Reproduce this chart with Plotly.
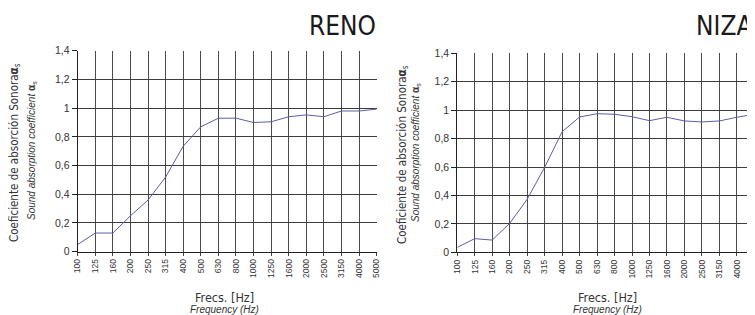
import plotly.graph_objects as go

freqs = ["100", "125", "160", "200", "250", "315", "400", "500", "630", "800",
         "1000", "1250", "1600", "2000", "2500", "3150", "4000", "5000"]
reno = [0.05, 0.13, 0.13, 0.25, 0.36, 0.52, 0.735, 0.87, 0.93, 0.93,
        0.90, 0.905, 0.94, 0.953, 0.94, 0.98, 0.98, 0.993]
niza = [0.035, 0.096, 0.086, 0.204, 0.373, 0.598, 0.848, 0.952, 0.975, 0.971,
        0.954, 0.926, 0.95, 0.924, 0.917, 0.924, 0.95, 0.971]
y_ticks = [0, 0.2, 0.4, 0.6, 0.8, 1.0, 1.2, 1.4]
titles = ["RENO", "NIZA"]

OFF = 8  # page body margin
W, H = 755 - OFF, 315 - OFF
LINE = "#5a5ea8"
GRID = "#3c3c3c"
VGRID = "#4a4a4a"

fig = go.Figure()
fig.add_trace(go.Scatter(x=freqs, y=reno, mode="lines", line=dict(color=LINE, width=1),
                         xaxis="x", yaxis="y", showlegend=False, hoverinfo="skip"))
fig.add_trace(go.Scatter(x=freqs, y=niza, mode="lines", line=dict(color=LINE, width=1),
                         xaxis="x2", yaxis="y2", showlegend=False, hoverinfo="skip"))

def px_x(v):
    return (v - OFF) / W

def px_y(v):
    return (H - (v - OFF)) / H

def xaxis(dom, anchor):
    return dict(domain=dom, anchor=anchor, type="category", range=[0, 17],
                categoryorder="array", categoryarray=freqs, automargin=False,
                showgrid=True, gridcolor=VGRID, gridwidth=1,
                showline=True, linecolor="#222", linewidth=1,
                ticks="outside", ticklen=3, tickcolor="#444",
                tickangle=-90, tickfont=dict(family="Liberation Sans", size=8.5, color="#333"),
                zeroline=False, fixedrange=True)

def yaxis(dom, anchor):
    return dict(domain=dom, anchor=anchor, range=[0, 1.4], tickvals=y_ticks, automargin=False,
                showgrid=True, gridcolor=GRID, gridwidth=1,
                showline=True, linecolor="#222", linewidth=1,
                ticks="outside", ticklen=5, tickcolor="#222",
                tickfont=dict(family="Liberation Sans", size=10.5, color="#333"),
                zeroline=False, fixedrange=True)

fig.update_layout(
    width=W, height=H, margin=dict(l=0, r=0, t=0, b=0, pad=0, autoexpand=False),
    paper_bgcolor="white", plot_bgcolor="white",
    separators=",.",
    xaxis=xaxis([px_x(77.7), px_x(376.7)], "y"),
    yaxis=yaxis([px_y(251.7), px_y(50.7)], "x"),
    xaxis2=xaxis([px_x(457.3), min(1.0, px_x(754.3))], "y2"),
    yaxis2=yaxis([px_y(252.3), px_y(53.3)], "x2"),
)

annots = []
for tx, xr, lx1, lx2, ly, xc in [
        (titles[0], 378, 14, 32, 153, 224),
        (titles[1], 754, 402, 416, 155, 607)]:
    annots.append(dict(text=tx, xref="paper", yref="paper", x=px_x(xr), y=px_y(26),
                       xanchor="right", yanchor="middle", showarrow=False,
                       font=dict(family="DejaVu Sans Condensed", size=26, color="#1a1a1a")))
    annots.append(dict(text="Coeficiente de absorción Sonora<b>α</b><sub>s</sub>",
                       xref="paper", yref="paper", x=px_x(lx1), y=px_y(ly),
                       xanchor="center", yanchor="middle", textangle=-90, showarrow=False,
                       font=dict(family="DejaVu Sans Condensed", size=11.5, color="#333")))
    annots.append(dict(text="<i>Sound absorption coefficient</i> <b>α</b><sub>s</sub>",
                       xref="paper", yref="paper", x=px_x(lx2), y=px_y(ly - 2),
                       xanchor="center", yanchor="middle", textangle=-90, showarrow=False,
                       font=dict(family="Liberation Sans", size=10, color="#333")))
    annots.append(dict(text="Frecs. [Hz]", xref="paper", yref="paper", x=px_x(xc), y=px_y(297),
                       xanchor="center", yanchor="middle", showarrow=False,
                       font=dict(family="DejaVu Sans Condensed", size=12.5, color="#333")))
    annots.append(dict(text="<i>Frequency (Hz)</i>", xref="paper", yref="paper", x=px_x(xc),
                       y=px_y(309), xanchor="center", yanchor="middle", showarrow=False,
                       font=dict(family="Liberation Sans", size=10, color="#333")))
fig.update_layout(annotations=annots)

fig.write_html("out.html")
